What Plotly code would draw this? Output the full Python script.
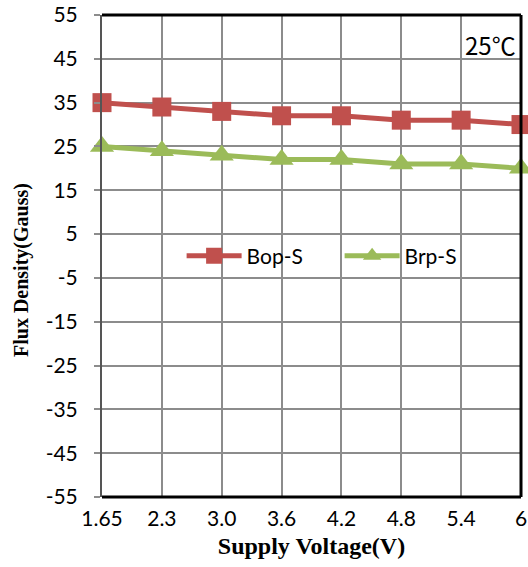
import plotly.graph_objects as go

voltages = ["1.65", "2.3", "3.0", "3.6", "4.2", "4.8", "5.4", "6"]
bop_s = [35, 34, 33, 32, 32, 31, 31, 30]
brp_s = [25, 24, 23, 22, 22, 21, 21, 20]
y_ticks = [55, 45, 35, 25, 15, 5, -5, -15, -25, -35, -45, -55]

RED = "#C0504D"
GREEN = "#9BBB59"
SANS = "Lato, 'Noto Sans CJK SC', sans-serif"
TICKFONT = dict(family=SANS, size=21, color="#000")
SERIF = "'Liberation Serif', 'Times New Roman', serif"

fig = go.Figure()
fig.add_trace(go.Scatter(
    x=voltages, y=bop_s, name="Bop-S", mode="lines+markers",
    line=dict(color=RED, width=5),
    marker=dict(symbol="square", size=19, color=RED),
    cliponaxis=False,
))
fig.add_trace(go.Scatter(
    x=voltages, y=brp_s, name="Brp-S", mode="lines+markers",
    line=dict(color=GREEN, width=5),
    marker=dict(symbol="triangle-up", size=21, color=GREEN),
    cliponaxis=False,
))

fig.update_layout(
    width=528, height=567,
    margin=dict(l=102, r=1, t=15, b=70),
    paper_bgcolor="white", plot_bgcolor="white",
    showlegend=True,
    legend=dict(
        orientation="h", x=0.19, y=0.50, xanchor="left", yanchor="middle",
        bgcolor="rgba(0,0,0,0)", font=dict(family=SANS, size=21, color="#000"),
        itemwidth=55, entrywidth=88, entrywidthmode="pixels", tracegroupgap=0,
    ),
    xaxis=dict(
        type="category", range=[0, 7],
        showgrid=True, gridcolor="#8c8c8c", gridwidth=1.5,
        tickfont=TICKFONT, ticks="", showline=False, zeroline=False,
        ticklabelstandoff=7,
        title=dict(text="<b>Supply Voltage(V)</b>", font=dict(family=SERIF, size=24, color="#000"), standoff=8),
    ),
    yaxis=dict(
        range=[-55, 55], tickvals=y_ticks, ticktext=[str(v) for v in y_ticks],
        showgrid=True, gridcolor="#8c8c8c", gridwidth=1.5, zeroline=False,
        tickfont=TICKFONT, ticks="outside", ticklen=6, tickcolor="#8c8c8c", tickwidth=1.5,
        ticklabelstandoff=12,
        showline=True, linecolor="#555", linewidth=2,
    ),
    shapes=[
        dict(type="line", xref="paper", yref="paper", x0=0, x1=1, y0=1, y1=1,
             line=dict(color="black", width=3)),
        dict(type="line", xref="paper", yref="paper", x0=0, x1=1, y0=0, y1=0,
             line=dict(color="black", width=3)),
        dict(type="line", xref="paper", yref="paper", x0=1, x1=1, y0=0, y1=1,
             line=dict(color="black", width=3)),
    ],
    annotations=[
        dict(text="25℃",
             xref="paper", yref="paper", x=0.993, y=0.98,
             xanchor="right", yanchor="top", showarrow=False,
             font=dict(family="'Noto Sans CJK SC'", size=24, color="#000")),
        dict(text="<b>Flux Density(Gauss)</b>", textangle=-90,
             xref="paper", yref="paper", x=-0.192, y=0.47,
             xanchor="center", yanchor="middle", showarrow=False,
             font=dict(family=SERIF, size=20, color="#000")),
    ],
)

fig.write_html("out.html")
